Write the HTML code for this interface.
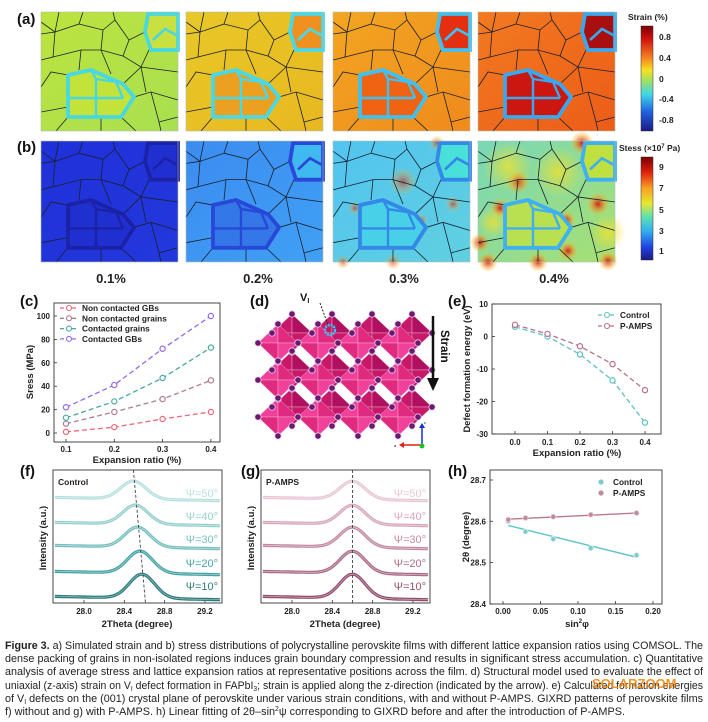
<!DOCTYPE html>
<html><head><meta charset="utf-8"><style>
html,body{margin:0;padding:0;background:#fff}
svg{display:block}
text{font-family:"Liberation Sans",sans-serif}
.b{font-weight:bold}
</style></head><body>
<svg id="s" width="708" height="722" viewBox="0 0 708 722" xmlns="http://www.w3.org/2000/svg">
<defs>
<linearGradient id="cbA" x1="0" y1="0" x2="0" y2="1">
<stop offset="0" stop-color="#7a0000"/><stop offset="0.12" stop-color="#d01010"/><stop offset="0.3" stop-color="#f58020"/><stop offset="0.42" stop-color="#f8e020"/><stop offset="0.52" stop-color="#a0e060"/><stop offset="0.65" stop-color="#40d8e8"/><stop offset="0.82" stop-color="#2060e0"/><stop offset="1" stop-color="#1a1a80"/></linearGradient>
<linearGradient id="cbB" x1="0" y1="0" x2="0" y2="1">
<stop offset="0" stop-color="#7a0000"/><stop offset="0.15" stop-color="#e02010"/><stop offset="0.3" stop-color="#f8a020"/><stop offset="0.45" stop-color="#e8e830"/><stop offset="0.58" stop-color="#60e0b0"/><stop offset="0.72" stop-color="#30b0f0"/><stop offset="0.88" stop-color="#2040e0"/><stop offset="1" stop-color="#1a1a80"/></linearGradient>
<radialGradient id="hot"><stop offset="0" stop-color="#d01010" stop-opacity="0.95"/><stop offset="0.5" stop-color="#f08020" stop-opacity="0.6"/><stop offset="1" stop-color="#f8d020" stop-opacity="0"/></radialGradient>
<radialGradient id="warm"><stop offset="0" stop-color="#f0e030" stop-opacity="0.8"/><stop offset="1" stop-color="#f0e030" stop-opacity="0"/></radialGradient>
<g id="net" fill="none" stroke="#1a2030" stroke-width="0.8">
<polyline points="0,22 14,20 18,0"/><polyline points="14,20 38,12 42,0"/><polyline points="38,12 62,18 74,8 72,0"/>
<polyline points="62,18 60,38 82,44 88,28 104,20 108,2"/><polyline points="74,8 88,28"/><polyline points="0,48 12,45 14,20"/>
<polyline points="12,45 40,38 60,38"/><polyline points="40,38 38,58"/><polyline points="82,44 100,55 137,60"/>
<polyline points="100,55 108,38"/><polyline points="0,75 10,60 27,63"/><polyline points="93,85 110,80 137,88"/>
<polyline points="110,80 118,110 120,119"/><polyline points="80,105 95,119"/><polyline points="0,100 27,95"/>
<polyline points="27,105 15,119"/><polyline points="60,38 70,62"/><polyline points="100,55 105,80"/>
<polyline points="60,119 60,105"/><polyline points="82,72 100,55"/><polyline points="118,110 137,105"/><polyline points="0,10 14,20"/>
</g>
</defs>
<g id="maps"></g>
<!-- colorbars -->
<rect x="641" y="26" width="12" height="105" fill="url(#cbA)" stroke="#333" stroke-width="0.5"/>
<rect x="641" y="157" width="12" height="103" fill="url(#cbB)" stroke="#333" stroke-width="0.5"/>
<g class="b" font-size="8.5" fill="#222">
<text x="628" y="20">Strain (%)</text>
<text x="619" y="151">Stess (×10<tspan font-size="6" dy="-3">7</tspan><tspan dy="3"> Pa)</tspan></text>
<text x="659" y="40">0.8</text><text x="659" y="61">0.4</text><text x="659" y="82">0</text><text x="659" y="102">-0.4</text><text x="659" y="123">-0.8</text>
<text x="659" y="170">9</text><text x="659" y="191">7</text><text x="659" y="213">5</text><text x="659" y="234">3</text><text x="659" y="254">1</text>
</g>
<g class="b" font-size="13" fill="#222" text-anchor="middle">
<text x="111" y="283">0.1%</text><text x="258" y="283">0.2%</text><text x="404" y="283">0.3%</text><text x="554" y="283">0.4%</text>
</g>
<g class="b" font-size="15" fill="#111">
<text x="17" y="24">(a)</text><text x="17" y="152">(b)</text>
<text x="20" y="306">(c)</text><text x="250" y="306">(d)</text><text x="448" y="306">(e)</text>
<text x="20" y="476">(f)</text><text x="241" y="476">(g)</text><text x="448" y="476">(h)</text>
</g>
<g id="plots"></g>
<!-- panel d -->
<g id="crys"></g>
<line x1="320" y1="303" x2="328" y2="325" stroke="#222" stroke-dasharray="2,1.5"/>
<text x="300" y="301" class="b" font-size="11" fill="#111">V<tspan font-size="7" dy="2">I</tspan></text>
<circle cx="330" cy="330" r="5" fill="none" stroke="#30c8f0" stroke-width="2.5" stroke-dasharray="2,1"/>
<line x1="433" y1="316" x2="433" y2="380" stroke="#111" stroke-width="2.5"/>
<polygon points="427,378 439,378 433,391" fill="#111"/>
<text class="b" font-size="11.5" transform="translate(441,330) rotate(90)" fill="#111">Strain</text>
<line x1="422" y1="445" x2="422" y2="427" stroke="#1030e0" stroke-width="1.5"/><polygon points="419,428 425,428 422,423" fill="#1030e0"/>
<line x1="422" y1="445" x2="403" y2="445" stroke="#e02010" stroke-width="1.5"/><polygon points="404,442 404,448 399,445" fill="#e02010"/>
<circle cx="422" cy="446" r="2.5" fill="#20c020"/>
<text x="424" y="424" font-size="4">c</text><text x="394" y="447" font-size="4">a</text>
<!-- caption -->
<g font-size="11" fill="#222" style="font-family:'Liberation Sans Narrow','Liberation Sans',sans-serif">
<text x="5" y="649" textLength="698" lengthAdjust="spacingAndGlyphs"><tspan font-weight="bold">Figure 3.</tspan>  a) Simulated strain and b) stress distributions of polycrystalline perovskite films with different lattice expansion ratios using COMSOL. The</text>
<text x="5" y="662" textLength="698" lengthAdjust="spacingAndGlyphs">dense packing of grains in non-isolated regions induces grain boundary compression and results in significant stress accumulation. c) Quantitative</text>
<text x="5" y="675" textLength="698" lengthAdjust="spacingAndGlyphs">analysis of average stress and lattice expansion ratios at representative positions across the film. d) Structural model used to evaluate the effect of</text>
<text x="5" y="689" textLength="698" lengthAdjust="spacingAndGlyphs">uniaxial (z-axis) strain on V<tspan font-size="7" dy="2">I</tspan><tspan dy="-2"> defect formation in FAPbI</tspan><tspan font-size="7" dy="2">3</tspan><tspan dy="-2">; strain is applied along the z-direction (indicated by the arrow). e) Calculated formation energies</tspan></text>
<text x="5" y="702" textLength="698" lengthAdjust="spacingAndGlyphs">of V<tspan font-size="7" dy="2">I</tspan><tspan dy="-2"> defects on the (001) crystal plane of perovskite under various strain conditions, with and without P-AMPS. GIXRD patterns of perovskite films</tspan></text>
<text x="5" y="715" textLength="620" lengthAdjust="spacingAndGlyphs">f) without and g) with P-AMPS. h) Linear fitting of 2θ–sin<tspan font-size="7" dy="-4">2</tspan><tspan dy="4">ψ corresponding to GIXRD before and after the introduction of P-AMPS.</tspan></text>
</g>
<text x="592" y="688" font-size="13" class="b" fill="#f08a10" opacity="0.9">SOLARZOOM</text>
</svg>
<script>
var NS="http://www.w3.org/2000/svg";
function el(p,t,a,txt){var e=document.createElementNS(NS,t);for(var k in a)e.setAttribute(k,a[k]);if(txt!==undefined)e.textContent=txt;p.appendChild(e);return e;}
var maps=document.getElementById('maps');
var xs=[41,186,333,478];
var A=[{bg:"#bde33e",bg2:"#a8e050",cl:"#c4e33a",tr:"#c8e040",ol:"#48d8e0"},
{bg:"#e8c828",bg2:"#e8b820",cl:"#eca020",tr:"#f09020",ol:"#48d8e8"},
{bg:"#f2a622",bg2:"#f08a1c",cl:"#ee6412",tr:"#e43010",ol:"#40c0f0"},
{bg:"#f27a20",bg2:"#ec5c18",cl:"#cc1610",tr:"#a81010",ol:"#3aa8f0"}];
var B=[{bg:"#2030d8",bg2:"#2238dc",cl:"#2030d0",tr:"#2030d0",ol:"#1c22a8"},
{bg:"#3c8cf0",bg2:"#40a0f4",cl:"#3478e8",tr:"#40b8f0",ol:"#2848d8"},
{bg:"#52c4f0",bg2:"#60d0e0",cl:"#48d0e8",tr:"#48e0d8",ol:"#3488e8"},
{bg:"#78d8b8",bg2:"#a8e070",cl:"#b8e050",tr:"#c0e040",ol:"#40b0f0"}];
function map(x,y,h,c,row,i){
 var g=el(maps,'g',{transform:'translate('+x+','+y+') scale(1,'+(h/119)+')'});
 var id='g'+row+i;
 var lg=el(g,'linearGradient',{id:id,x1:0,y1:0,x2:1,y2:1});
 el(lg,'stop',{offset:0,'stop-color':c.bg});el(lg,'stop',{offset:1,'stop-color':c.bg2});
 el(g,'rect',{x:0,y:0,width:137,height:119,fill:'url(#'+id+')'});
 if(row==1&&i>=2){
  var spots=i==2?[[104,2,8],[120,62,8],[22,66,7],[60,119,8],[10,119,7],[88,78,7],[70,40,14]]:[[104,2,12],[120,62,12],[22,66,10],[60,119,10],[10,119,10],[88,78,10],[2,100,10],[90,108,10],[130,118,10],[40,40,12]];
  spots.forEach(function(s){el(g,'circle',{cx:s[0],cy:s[1],r:s[2],fill:'url(#hot)',opacity:i==2?0.6:0.95});});
  if(i==3){[[30,25,25],[80,30,25],[130,90,18],[15,80,15]].forEach(function(s){el(g,'circle',{cx:s[0],cy:s[1],r:s[2],fill:'url(#warm)'});});}
 }
 el(g,'polygon',{points:'27,63 50,58 82,72 93,85 80,105 27,105',fill:c.cl});
 el(g,'polygon',{points:'107,2 137,2 137,38 110,38 104,20',fill:c.tr});
 el(g,'use',{href:'#net'});
 var sw=3.8;
 el(g,'polygon',{points:'27,63 50,58 82,72 93,85 80,105 27,105',fill:'none',stroke:c.ol,'stroke-width':sw,'stroke-linejoin':'round'});
 el(g,'polyline',{points:'27,86 82,86',fill:'none',stroke:c.ol,'stroke-width':2.4});
 el(g,'polyline',{points:'50,58 55,67 55,105',fill:'none',stroke:c.ol,'stroke-width':2.4});
 el(g,'polyline',{points:'55,67 75,70 82,86',fill:'none',stroke:c.ol,'stroke-width':2.4});
 el(g,'polygon',{points:'107,2 137,2 137,38 110,38 104,20',fill:'none',stroke:c.ol,'stroke-width':sw});
 el(g,'polyline',{points:'112,28 124,17 137,24',fill:'none',stroke:c.ol,'stroke-width':2.6});
 el(g,'rect',{x:0,y:0,width:137,height:119,fill:'none',stroke:'#b0c0b0','stroke-width':0.6});
}
for(var i=0;i<4;i++){map(xs[i],12,119,A[i],0,i);map(xs[i],141,121,B[i],1,i);}

var P=document.getElementById('plots');
function txt(x,y,s,o){o=o||{};var a={x:x,y:y,'font-size':o.fs||8,'font-weight':'bold',fill:o.fill||'#222'};if(o.a)a['text-anchor']=o.a;if(o.tr)a.transform=o.tr;return el(P,'text',a,s);}
function box(x1,y1,x2,y2){el(P,'rect',{x:x1,y:y1,width:x2-x1,height:y2-y1,fill:'none',stroke:'#333','stroke-width':0.9});}
function tick(x,y,dx,dy){el(P,'line',{x1:x,y1:y,x2:x+dx,y2:y+dy,stroke:'#333','stroke-width':0.8});}
// panel c
box(54,303,220,442);
var cx=function(v){return 66+(v-0.1)/0.1*48.3},cy=function(v){return 433-v*1.17};
[0,20,40,60,80,100].forEach(function(v){tick(54,cy(v),3,0);txt(50,cy(v)+3,v,{a:'end'});});
[0.1,0.2,0.3,0.4].forEach(function(v){tick(cx(v),442,0,-3);txt(cx(v),452,v,{a:'middle'});});
txt(137,463,'Expansion ratio (%)',{a:'middle',fs:9.5});
txt(0,0,'Sress (MPa)',{a:'middle',fs:9.5,tr:'translate(33,372) rotate(-90)'});
var cs=[["#f06878",[1,5,12,18],"Non contacted GBs"],["#b07c94",[8,18,29,45],"Non contacted grains"],["#48aaa4",[13,27,47,73],"Contacted grains"],["#9468ec",[22,41,72,100],"Contacted GBs"]];
cs.forEach(function(s,k){
 var pts=s[1].map(function(v,j){return cx(0.1+0.1*j)+','+cy(v)}).join(' ');
 el(P,'polyline',{points:pts,fill:'none',stroke:s[0],'stroke-width':1.3,'stroke-dasharray':'5,3'});
 s[1].forEach(function(v,j){el(P,'circle',{cx:cx(0.1+0.1*j),cy:cy(v),r:2.6,fill:'#fff',stroke:s[0],'stroke-width':1.2});});
 var ly=311+k*10.3;
 el(P,'line',{x1:60,y1:ly-3,x2:78,y2:ly-3,stroke:s[0],'stroke-width':1.3,'stroke-dasharray':'4,2'});
 el(P,'circle',{cx:69,cy:ly-3,r:2.5,fill:'#fff',stroke:s[0],'stroke-width':1.1});
 txt(82,ly,s[2],{fs:8.3});
});
// panel e
box(492,304,661,434);
var ex=function(v){return 515+v/0.1*32.5},ey=function(v){return 336.5-v*3.25};
[10,0,-10,-20,-30].forEach(function(v){tick(492,ey(v),3,0);txt(488,ey(v)+3,v,{a:'end'});});
[0,0.1,0.2,0.3,0.4].forEach(function(v){tick(ex(v),434,0,-3);txt(ex(v),445,v.toFixed(1),{a:'middle'});});
txt(577,456,'Expansion ratio (%)',{a:'middle',fs:9.5});
txt(0,0,'Defect formation energy (eV)',{a:'middle',fs:9.3,tr:'translate(470,369) rotate(-90)'});
[["#5cc0c4",[3,0,-5.5,-13.5,-26.5],"Control"],["#b8708c",[3.6,0.8,-3,-8.5,-16.5],"P-AMPS"]].forEach(function(s,k){
 var d='';for(var t=0;t<=40;t++){var v=t/100;var yv;var a=s[1];var j=Math.min(3,Math.floor(v/0.1));var f=(v-j*0.1)/0.1;yv=a[j]+(a[j+1]-a[j])*f;d+=(t?'L':'M')+ex(v)+','+ey(yv);}
 el(P,'path',{d:d,fill:'none',stroke:s[0],'stroke-width':1.3,'stroke-dasharray':'5,3'});
 s[1].forEach(function(v,j){el(P,'circle',{cx:ex(0.1*j),cy:ey(v),r:2.6,fill:'#fff',stroke:s[0],'stroke-width':1.2});});
 var ly=318+k*11;
 el(P,'line',{x1:598,y1:ly-3,x2:616,y2:ly-3,stroke:s[0],'stroke-width':1.3,'stroke-dasharray':'4,2'});
 el(P,'circle',{cx:607,cy:ly-3,r:2.5,fill:'#fff',stroke:s[0],'stroke-width':1.1});
 txt(620,ly,s[2],{fs:8.3});
});
// panels f,g
function xrd(off,cols,centers,label,dash){
 box(53+off,470,222+off,603);
 var gx=function(v){return 84+off+(v-28)*100.8};
 [28.0,28.4,28.8,29.2].forEach(function(v){tick(gx(v),603,0,-3);txt(gx(v),614,v.toFixed(1),{a:'middle'});});
 txt(137+off,627,'2Theta (degree)',{a:'middle',fs:9.5});
 txt(0,0,'Intensity (a.u.)',{a:'middle',fs:9.5,tr:'translate('+(46+off)+',538) rotate(-90)'});
 txt(58+off,485,label,{fs:8.5});
 var bases=[498,523,546,572,597],hs=[18,19,20,22,24],lab=['50','40','30','20','10'],ly=[497,520,543,567,590];
 for(var k=0;k<5;k++){
  var d='';for(var v=27.7;v<=29.4;v+=0.01){var x=gx(v);if(x<54+off||x>221+off)continue;var y=bases[k]+(v-28)*2-hs[k]*Math.exp(-Math.pow(v-centers[k],2)/(2*0.125*0.125));d+=(d?'L':'M')+x.toFixed(1)+','+y.toFixed(1);}
  el(P,'path',{d:d,fill:'none',stroke:cols[k],'stroke-width':3.2});
  el(P,'path',{d:d,fill:'none',stroke:'#fff','stroke-width':0.6,opacity:0.6});
  txt(218+off,ly[k],'ψ=',{a:'end',fs:11,fill:cols[k]}).setAttribute('font-weight','normal');
  var t=P.lastChild;t.textContent='Ψ='+lab[k]+'°';
 }
 el(P,'line',{x1:gx(dash[0]),y1:470,x2:gx(dash[1]),y2:603,stroke:'#444','stroke-width':0.9,'stroke-dasharray':'3,2'});
}
xrd(0,['#b8e0e0','#98d0d0','#78c0c0','#48a4a4','#2e7c7e'],[28.49,28.51,28.53,28.555,28.575],'Control',[28.49,28.61]);
xrd(208,['#e8c8d6','#d8a8be','#c48aa4','#ac6c88','#944e6e'],[28.6,28.6,28.6,28.6,28.6],'P-AMPS',[28.6,28.6]);
// panel h
box(490,470,662,604);
var hx=function(v){return 503+v*750},hy=function(v){return 480+(28.7-v)*413};
[28.7,28.6,28.5,28.4].forEach(function(v){tick(490,hy(v),3,0);txt(486,hy(v)+3,v.toFixed(1),{a:'end'});});
[0,0.05,0.1,0.15,0.2].forEach(function(v){tick(hx(v),604,0,-3);txt(hx(v),614,v.toFixed(2),{a:'middle'});});
var xl=txt(577,627,'sin',{a:'middle',fs:9.5});xl.textContent='';
el(xl,'tspan',{},'sin');el(xl,'tspan',{'font-size':6,dy:-4},'2');el(xl,'tspan',{dy:4},'φ');
txt(0,0,'2θ (degree)',{a:'middle',fs:9.5,tr:'translate(469,537) rotate(-90)'});
var xs2=[0.007,0.03,0.067,0.117,0.178];
el(P,'line',{x1:hx(0.007),y1:hy(28.59),x2:hx(0.178),y2:hy(28.513),stroke:'#60c4c4','stroke-width':1.4});
el(P,'line',{x1:hx(0.007),y1:hy(28.605),x2:hx(0.178),y2:hy(28.62),stroke:'#b87890','stroke-width':1.4});
[28.6,28.575,28.557,28.535,28.518].forEach(function(v,j){el(P,'circle',{cx:hx(xs2[j]),cy:hy(v),r:2.6,fill:'#7ccccc',stroke:'#e0f4f4','stroke-width':0.8});});
[28.604,28.608,28.611,28.616,28.62].forEach(function(v,j){el(P,'circle',{cx:hx(xs2[j]),cy:hy(v),r:2.6,fill:'#c08aa0',stroke:'#f0dde4','stroke-width':0.8});});
el(P,'circle',{cx:601,cy:482,r:2.6,fill:'#7ccccc'});txt(613,485,'Control',{fs:8.3});
el(P,'circle',{cx:601,cy:493,r:2.6,fill:'#c08aa0'});txt(613,496,'P-AMPS',{fs:8.3});
// crystal
var C=document.getElementById('crys');
function oct(g,cx,cy,w,h,f1,f2){
 el(g,'polygon',{points:(cx-w)+','+cy+' '+cx+','+(cy-h)+' '+cx+','+cy,fill:f1,stroke:'#f8c0d8','stroke-width':0.4});
 el(g,'polygon',{points:cx+','+(cy-h)+' '+(cx+w)+','+cy+' '+cx+','+cy,fill:f2,stroke:'#f8c0d8','stroke-width':0.4});
 el(g,'polygon',{points:(cx-w)+','+cy+' '+cx+','+(cy+h)+' '+cx+','+cy,fill:f2,stroke:'#f8c0d8','stroke-width':0.4});
 el(g,'polygon',{points:cx+','+(cy+h)+' '+(cx+w)+','+cy+' '+cx+','+cy,fill:f1,stroke:'#f8c0d8','stroke-width':0.4});
}
var dots=[];
for(var j=0;j<3;j++)for(var i=0;i<4;i++){var x=292+i*40,y=333+j*37;oct(C,x,y,20,19,'#c8186a','#b01060');dots.push([x-20,y],[x+20,y],[x,y-19],[x,y+19]);}
for(var j=0;j<3;j++)for(var i=0;i<4;i++){var x=278+i*40,y=343+j*37;oct(C,x,y,20,19,'#f0409a','#e02a80');dots.push([x-20,y],[x+20,y],[x,y-19],[x,y+19]);}
dots.forEach(function(d){el(C,'circle',{cx:d[0],cy:d[1],r:3.2,fill:'#6a1a70',stroke:'#e8d0f0','stroke-width':0.8});});
</script>
</body></html>
